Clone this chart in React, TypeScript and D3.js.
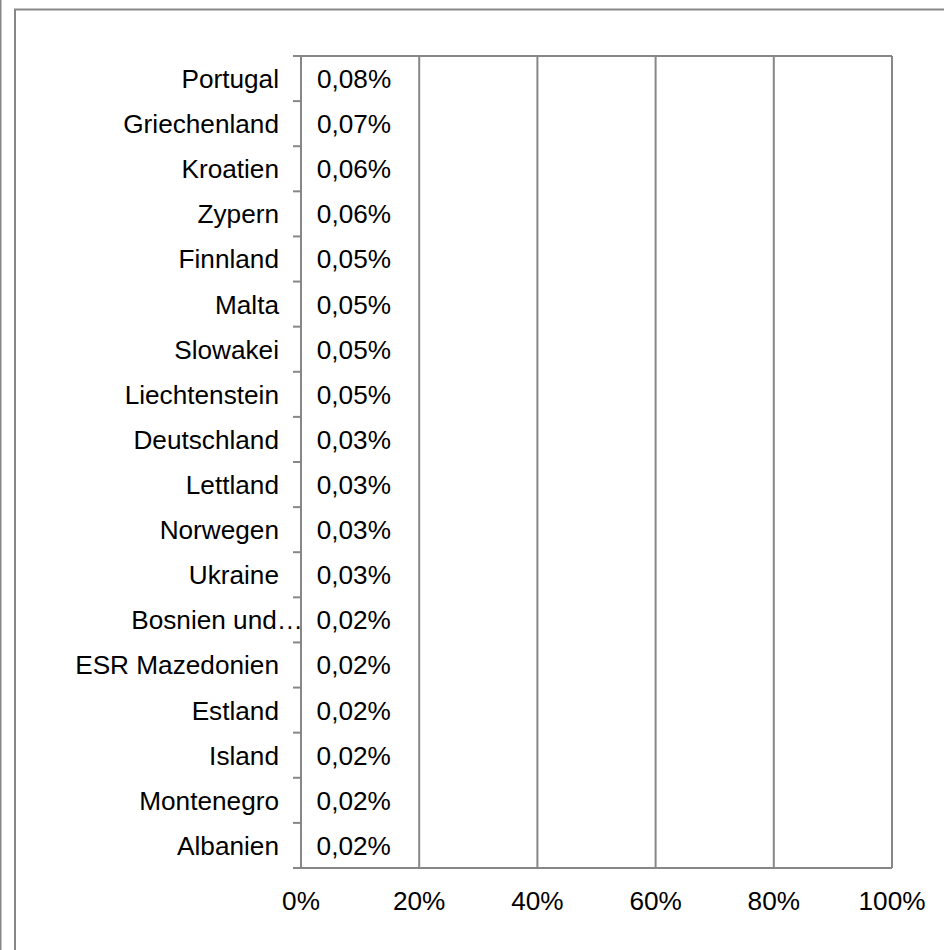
import React, { useEffect, useRef } from 'react'
import * as d3 from 'd3'

const countries = [
  'Portugal', 'Griechenland', 'Kroatien', 'Zypern', 'Finnland', 'Malta',
  'Slowakei', 'Liechtenstein', 'Deutschland', 'Lettland', 'Norwegen', 'Ukraine',
  'Bosnien und…', 'ESR Mazedonien', 'Estland', 'Island', 'Montenegro', 'Albanien'
]
// share in percent
const shares = [
  0.08, 0.07, 0.06, 0.06, 0.05, 0.05,
  0.05, 0.05, 0.03, 0.03, 0.03, 0.03,
  0.02, 0.02, 0.02, 0.02, 0.02, 0.02
]
const xTicks = [0, 20, 40, 60, 80, 100]

const width = 944
const height = 950
const gridColor = '#878787'
const font = '"Liberation Sans", Arial, sans-serif'
const fontSize = 26.2

const App = () => {
  const ref = useRef<SVGSVGElement>(null)

  useEffect(() => {
    const svg = d3.select(ref.current)
    svg.selectAll('*').remove()

    const data = countries.map((c, i) => ({ country: c, value: shares[i] }))

    const left = 301, right = 892, top = 56, bottom = 868

    const x = d3.scaleLinear().domain([0, 100]).range([left, right])
    const y = d3.scaleBand()
      .domain(countries)
      .range([top, bottom])
      .paddingInner(0.5)
      .paddingOuter(0.25)
    const band = (bottom - top) / countries.length

    // outer chart border
    svg.append('line')
      .attr('x1', 0.75).attr('x2', 0.75).attr('y1', 0).attr('y2', height)
      .attr('stroke', gridColor).attr('stroke-width', 1.5)
    svg.append('rect')
      .attr('x', 15).attr('y', 9.5)
      .attr('width', width + 20).attr('height', height + 20)
      .attr('fill', 'none')
      .attr('stroke', gridColor).attr('stroke-width', 2)

    // bars (tiny, effectively hidden behind the axis)
    svg.append('g')
      .selectAll('rect')
      .data(data)
      .join('rect')
        .attr('x', x(0))
        .attr('y', d => y(d.country)!)
        .attr('width', d => x(d.value) - x(0))
        .attr('height', y.bandwidth())
        .attr('fill', '#4F81BD')

    // gridlines + plot border
    const g = svg.append('g')
    g.selectAll('line.grid')
      .data(xTicks.slice(1))
      .join('line')
        .attr('class', 'grid')
        .attr('x1', d => x(d)).attr('x2', d => x(d))
        .attr('y1', top).attr('y2', bottom)
        .attr('stroke', gridColor).attr('stroke-width', 2)
    g.append('line')
      .attr('x1', left - 8).attr('x2', right)
      .attr('y1', top).attr('y2', top)
      .attr('stroke', gridColor).attr('stroke-width', 2)
    g.append('line')
      .attr('x1', left - 8).attr('x2', right)
      .attr('y1', bottom).attr('y2', bottom)
      .attr('stroke', gridColor).attr('stroke-width', 2)
    g.append('line')
      .attr('x1', left).attr('x2', left)
      .attr('y1', top - 1).attr('y2', bottom + 1)
      .attr('stroke', gridColor).attr('stroke-width', 2)

    // category ticks
    g.selectAll('line.tick')
      .data(d3.range(1, countries.length))
      .join('line')
        .attr('class', 'tick')
        .attr('x1', left - 8).attr('x2', left)
        .attr('y1', i => top + i * band).attr('y2', i => top + i * band)
        .attr('stroke', gridColor).attr('stroke-width', 2)

    // category labels
    svg.append('g')
      .selectAll('text')
      .data(data)
      .join('text')
        .attr('x', d => d.country.endsWith('…') ? left + 2 : left - 22)
        .attr('y', d => y(d.country)! + y.bandwidth() / 2)
        .attr('dy', '0.36em')
        .attr('text-anchor', 'end')
        .attr('font-family', font)
        .attr('font-size', fontSize)
        .attr('fill', '#000')
        .text(d => d.country)

    // data labels
    svg.append('g')
      .selectAll('text')
      .data(data)
      .join('text')
        .attr('x', d => x(d.value) + 15.5)
        .attr('y', d => y(d.country)! + y.bandwidth() / 2)
        .attr('dy', '0.36em')
        .attr('font-family', font)
        .attr('font-size', fontSize)
        .attr('fill', '#000')
        .text(d => d.value.toFixed(2).replace('.', ',') + '%')

    // x axis labels
    svg.append('g')
      .selectAll('text')
      .data(xTicks)
      .join('text')
        .attr('x', d => x(d))
        .attr('y', 910)
        .attr('text-anchor', 'middle')
        .attr('font-family', font)
        .attr('font-size', fontSize)
        .attr('fill', '#000')
        .text(d => d + '%')
  }, [])

  return (
    <svg
      ref={ref}
      width={width}
      height={height}
      style={{ position: 'absolute', left: 0, top: 0, background: '#fff' }}
    />
  )
}

export default App
